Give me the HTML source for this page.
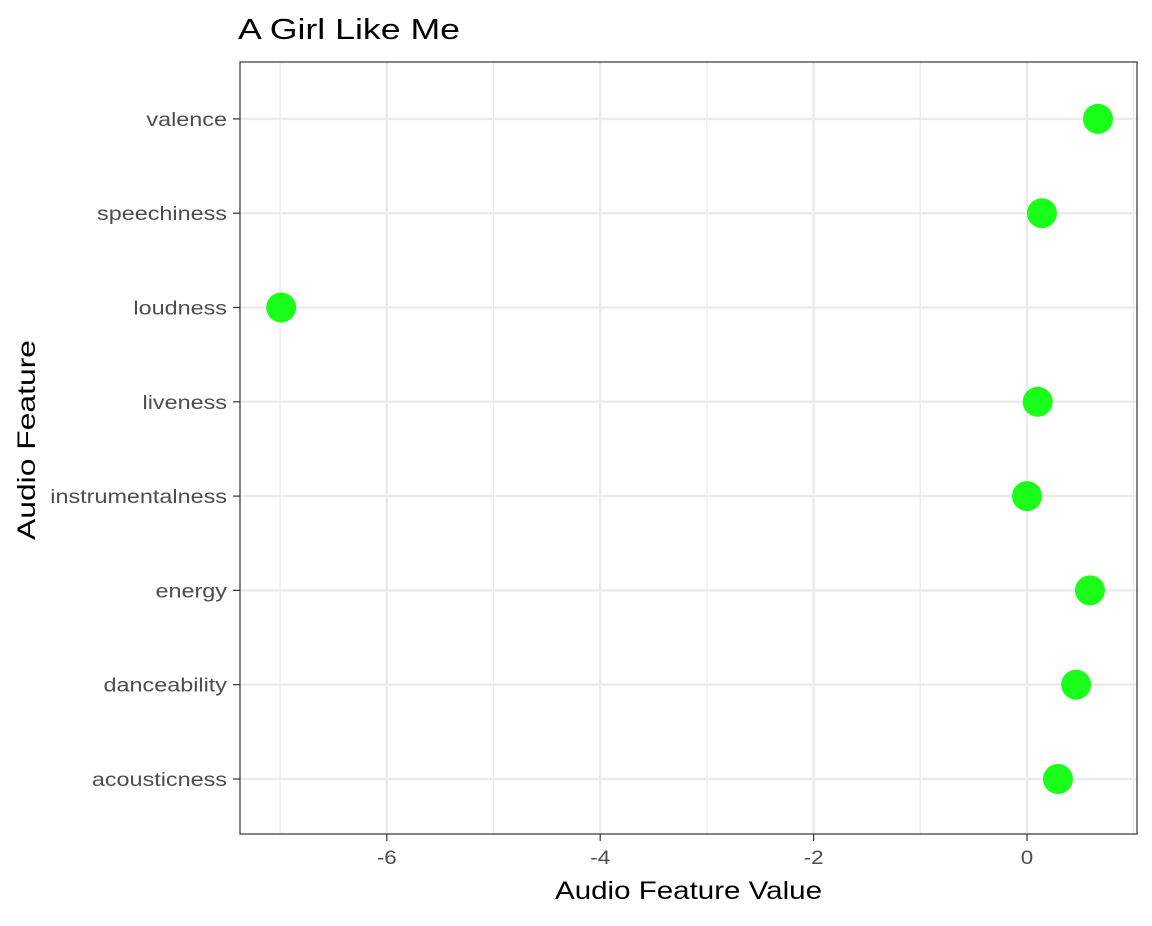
<!DOCTYPE html>
<html><head><meta charset="utf-8"><style>
body{margin:0;background:#fff;font-family:"Liberation Sans",Arial,sans-serif;}
svg text{font-family:"Liberation Sans",Arial,sans-serif;}
</style></head><body>
<svg id="chart" width="1152" height="921">
<text x="238" y="39" font-size="29" textLength="222" lengthAdjust="spacingAndGlyphs" fill="#000">A Girl Like Me</text>
<rect x="240" y="62" width="897" height="772" fill="#fff"/>
<g id="grid"></g>
<g id="points"></g>
<rect x="240" y="62" width="897" height="772" fill="none" stroke="#333" stroke-width="1.2"/>
<g id="axes"></g>
<text x="555" y="899" font-size="25" textLength="267" lengthAdjust="spacingAndGlyphs" fill="#000">Audio Feature Value</text>
<text transform="translate(35,540) rotate(-90)" font-size="25" textLength="200" lengthAdjust="spacingAndGlyphs" fill="#000">Audio Feature</text>
</svg>
<script>
const categories = ["acousticness","danceability","energy","instrumentalness","liveness","loudness","speechiness","valence"];
const values = [0.29,0.46,0.59,0.0,0.10,-6.99,0.14,0.665];
const xTicks = [-6,-4,-2,0];
const xMinor = [-7,-5,-3,-1,1];
const NS="http://www.w3.org/2000/svg";
const x0=1027, pxPerUnit=106.7;
function xs(v){return x0+v*pxPerUnit;}
function ys(i){return 779-i*94.3;}
function mk(tag,attrs,parent){const e=document.createElementNS(NS,tag);for(const k in attrs)e.setAttribute(k,attrs[k]);parent.appendChild(e);return e;}
const grid=document.getElementById('grid'),pts=document.getElementById('points'),axes=document.getElementById('axes');
xMinor.forEach(v=>{const x=xs(v);if(x<240||x>1137)return;
 const l=mk('line',{x1:x,x2:x,y1:62,y2:834,stroke:'#ebebeb','stroke-width':1.2},grid);
 
 });
xTicks.forEach(v=>{const x=xs(v);
 const l=mk('line',{x1:x,x2:x,y1:62,y2:834,stroke:'#ebebeb','stroke-width':2.4},grid);
 
 
 const t=mk('line',{x1:x,x2:x,y1:834,y2:841,stroke:'#333','stroke-width':1.2},axes);
 
 
 const g=mk('g',{transform:'translate('+x+',864) scale(1.18,1)'},axes);
 const tx=mk('text',{x:0,y:0,'font-size':19,'text-anchor':'middle',fill:'#4d4d4d'},g);
 tx.textContent=v;
 
 });
categories.forEach((c,i)=>{const y=ys(i);
 const l=mk('line',{x1:240,x2:1137,y1:y,y2:y,stroke:'#ebebeb','stroke-width':2.4},grid);
 
 
 const t=mk('line',{x1:233,x2:240,y1:y,y2:y,stroke:'#333','stroke-width':1.2},axes);
 
 
 const g=mk('g',{transform:'translate(227,'+(y+7)+') scale(1.2,1)'},axes);
 const tx=mk('text',{x:0,y:0,'font-size':19.5,'text-anchor':'end',fill:'#4d4d4d'},g);
 tx.textContent=c;
 
 
 const p=mk('circle',{cx:xs(values[i]),cy:y,r:15,fill:'#1aff1a'},pts);
 
 });
</script>
</body></html>
